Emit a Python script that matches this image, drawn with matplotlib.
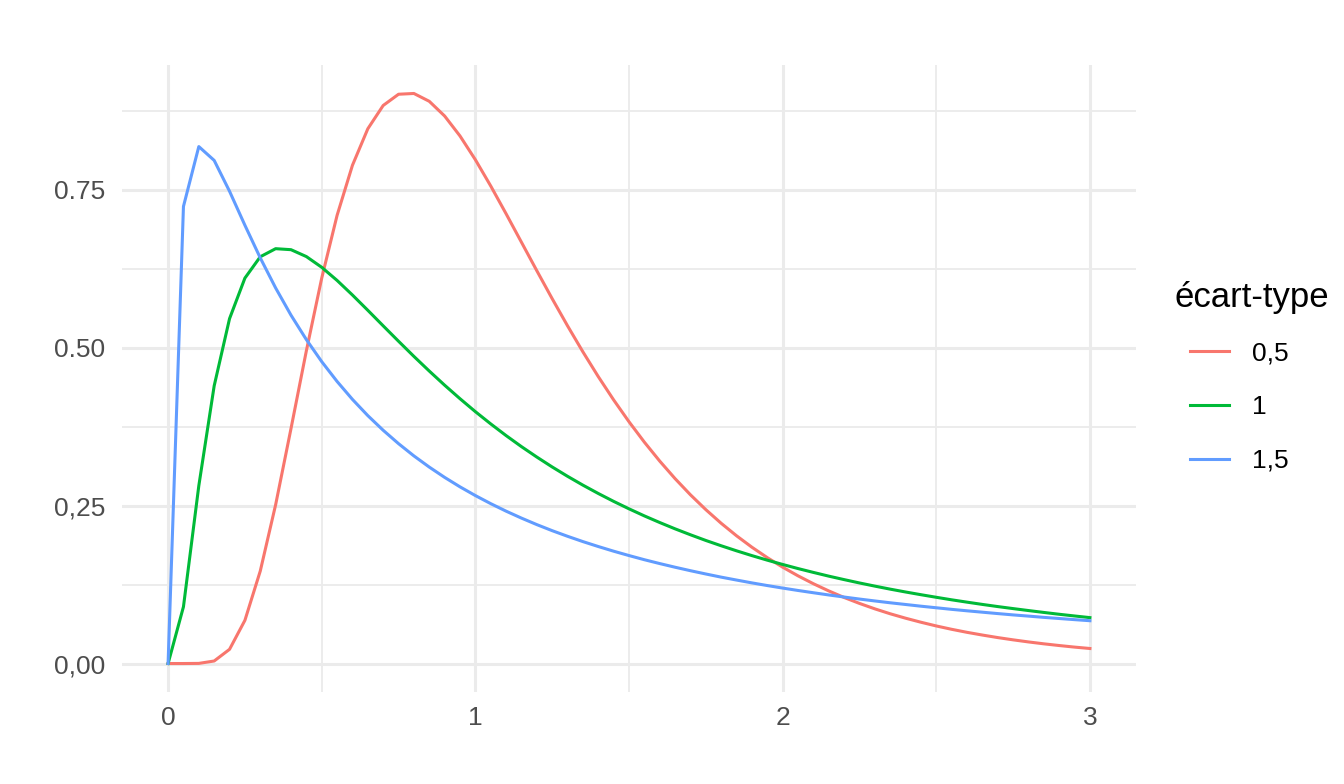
import matplotlib
matplotlib.use("Agg")
import matplotlib.pyplot as plt
import numpy as np

plt.rcParams['font.family'] = ['Liberation Sans', 'DejaVu Sans']

x_vals = [round(0.05 * i, 2) for i in range(61)]

dens_05 = [0.0, 0.0, 0.0002, 0.0040, 0.0225, 0.0684, 0.1465, 0.2515, 0.3721, 0.4953,
           0.6104, 0.7098, 0.7891, 0.8469, 0.8838, 0.9016, 0.9028, 0.8904, 0.8671, 0.8355,
           0.7979, 0.7563, 0.7123, 0.6672, 0.6221, 0.5778, 0.5348, 0.4936, 0.4544, 0.4175,
           0.3829, 0.3506, 0.3206, 0.2928, 0.2672, 0.2437, 0.2221, 0.2023, 0.1842, 0.1677,
           0.1526, 0.1389, 0.1264, 0.1150, 0.1046, 0.0952, 0.0866, 0.0788, 0.0718, 0.0654,
           0.0595, 0.0542, 0.0494, 0.0451, 0.0411, 0.0375, 0.0342, 0.0312, 0.0285, 0.0260,
           0.0238]

dens_1 = [0.0, 0.0899, 0.2816, 0.4398, 0.5462, 0.6104, 0.6442, 0.6570, 0.6554, 0.6445,
          0.6275, 0.6067, 0.5836, 0.5594, 0.5348, 0.5104, 0.4864, 0.4632, 0.4408, 0.4194,
          0.3989, 0.3795, 0.3610, 0.3435, 0.3270, 0.3113, 0.2965, 0.2825, 0.2693, 0.2568,
          0.2450, 0.2338, 0.2233, 0.2133, 0.2039, 0.1949, 0.1865, 0.1785, 0.1709, 0.1637,
          0.1569, 0.1504, 0.1443, 0.1384, 0.1329, 0.1276, 0.1226, 0.1178, 0.1133, 0.1090,
          0.1049, 0.1009, 0.0972, 0.0936, 0.0902, 0.0870, 0.0839, 0.0809, 0.0780, 0.0753,
          0.0727]

dens_15 = [0.0, 0.7239, 0.8187, 0.7968, 0.7479, 0.6941, 0.6424, 0.5948, 0.5517, 0.5130,
           0.4781, 0.4467, 0.4183, 0.3926, 0.3694, 0.3482, 0.3288, 0.3111, 0.2948, 0.2798,
           0.2660, 0.2532, 0.2413, 0.2303, 0.2200, 0.2104, 0.2015, 0.1931, 0.1853, 0.1779,
           0.1710, 0.1644, 0.1583, 0.1525, 0.1470, 0.1418, 0.1368, 0.1322, 0.1277, 0.1235,
           0.1195, 0.1157, 0.1121, 0.1086, 0.1053, 0.1021, 0.0991, 0.0962, 0.0935, 0.0908,
           0.0883, 0.0858, 0.0835, 0.0813, 0.0791, 0.0770, 0.0751, 0.0731, 0.0713, 0.0695,
           0.0678]

series_labels = ['0,5', '1', '1,5']
series_colors = ['#F8766D', '#00BA38', '#619CFF']
legend_title = 'écart-type'

x_ticks = [0, 1, 2, 3]
x_tick_labels = ['0', '1', '2', '3']
y_ticks = [0.0, 0.25, 0.5, 0.75]
y_tick_labels = ['0,00', '0,25', '0.50', '0.75']

fig = plt.figure(figsize=(13.44, 7.84), dpi=100)
ax = fig.add_axes([122 / 1344, (784 - 692) / 784, (1136 - 122) / 1344, (692 - 65) / 784])

for ys, lab, col in zip([dens_05, dens_1, dens_15], series_labels, series_colors):
    ax.plot(x_vals, ys, color=col, lw=2.2, label=lab, solid_joinstyle='round', zorder=3)

ax.set_xlim(-0.15, 3.15)
ax.set_ylim(-0.0451, 0.9479)

ax.set_xticks(x_ticks)
ax.set_xticklabels(x_tick_labels)
ax.set_yticks(y_ticks)
ax.set_yticklabels(y_tick_labels)
ax.set_xticks([0.5, 1.5, 2.5], minor=True)
ax.set_yticks([0.125, 0.375, 0.625, 0.875], minor=True)

ax.grid(which='major', color='#EBEBEB', lw=2.2, zorder=0)
ax.grid(which='minor', color='#EBEBEB', lw=1.3, zorder=0)
ax.set_axisbelow(True)
for s in ax.spines.values():
    s.set_visible(False)
ax.tick_params(which='both', length=0)
ax.tick_params(axis='both', labelsize=19, labelcolor='#4D4D4D')
ax.tick_params(axis='x', pad=10)
ax.tick_params(axis='y', pad=12)

fig.text(1175 / 1344, 1 - 297 / 784, legend_title, fontsize=25, color='black',
         ha='left', va='center')
leg = fig.legend(loc='center left', bbox_to_anchor=(1166 / 1344, 1 - 407 / 784),
                 frameon=False, fontsize=19,
                 handlelength=1.5, handletextpad=0.85, labelspacing=1.13)

fig.savefig('out.png', dpi=100, facecolor='white')
